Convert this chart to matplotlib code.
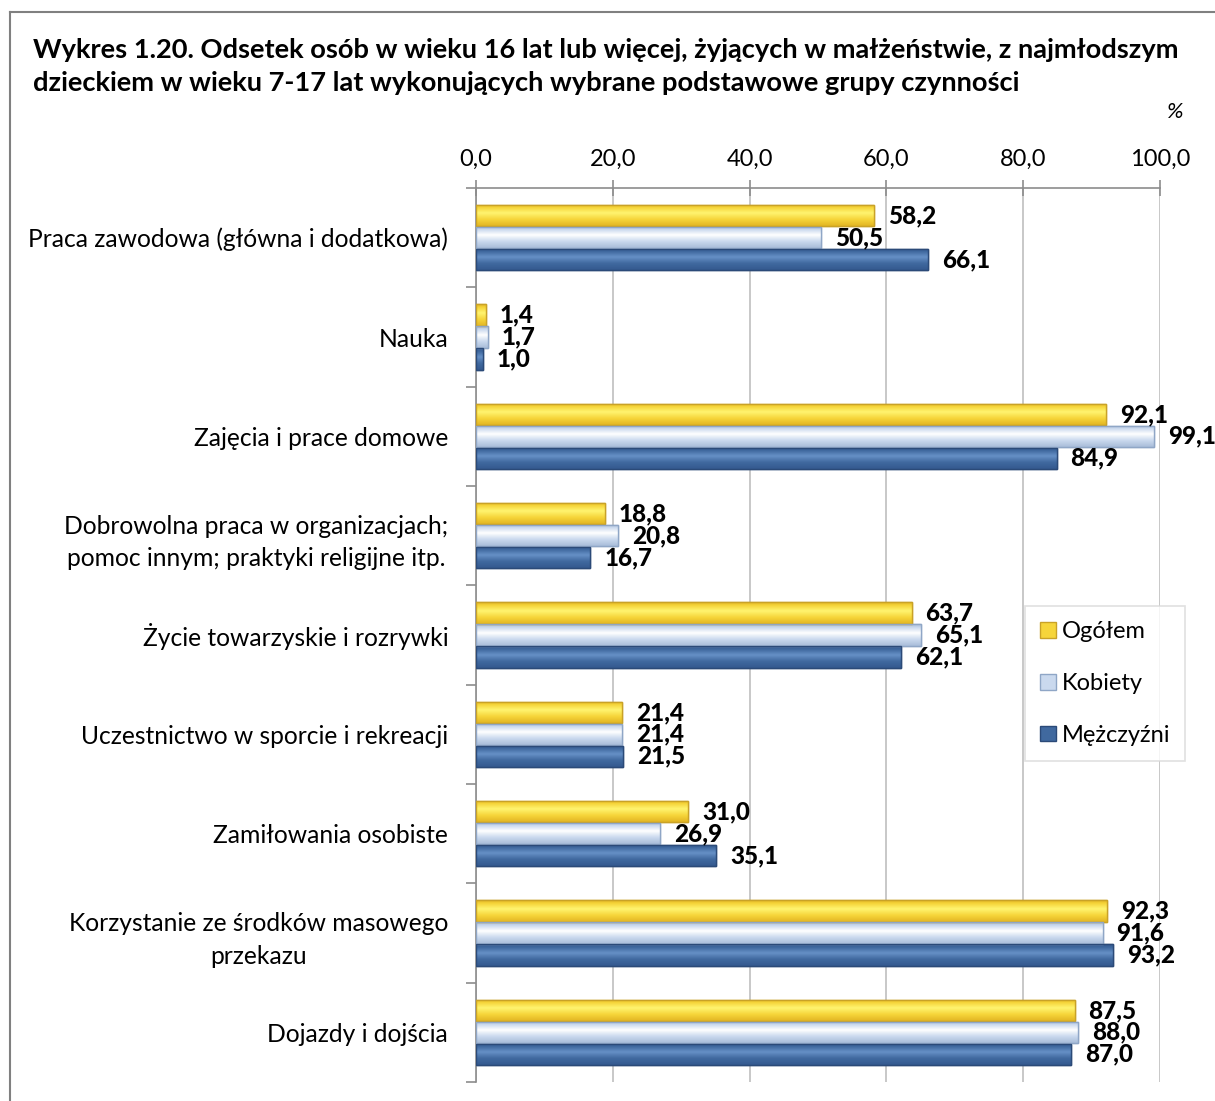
import numpy as np
import matplotlib
matplotlib.use("Agg")
import matplotlib.pyplot as plt
from matplotlib.lines import Line2D
from matplotlib.patches import Patch
from matplotlib.colors import LinearSegmentedColormap

plt.rcParams['font.family'] = ['Lato', 'DejaVu Sans']

categories = [
    "Praca zawodowa (główna i dodatkowa)",
    "Nauka",
    "Zajęcia i prace domowe",
    "Dobrowolna praca w organizacjach;\npomoc innym; praktyki religijne itp.",
    "Życie towarzyskie i rozrywki",
    "Uczestnictwo w sporcie i rekreacji",
    "Zamiłowania osobiste",
    "Korzystanie ze środków masowego\nprzekazu",
    "Dojazdy i dojścia",
]
series_names = ["Ogółem", "Kobiety", "Mężczyźni"]
ogolem = [58.2, 1.4, 92.1, 18.8, 63.7, 21.4, 31.0, 92.3, 87.5]
kobiety = [50.5, 1.7, 99.1, 20.8, 65.1, 21.4, 26.9, 91.6, 88.0]
mezczyzni = [66.1, 1.0, 84.9, 16.7, 62.1, 21.5, 35.1, 93.2, 87.0]
x_ticks = [0, 20, 40, 60, 80, 100]

series = [ogolem, kobiety, mezczyzni]
# (edge, dark, base, light)
styles = [
    ("#C9A227", "#E2B623", "#F6D53A", "#FFF470"),
    ("#8FA6C6", "#A9BDD9", "#CAD9EE", "#FFFFFF"),
    ("#2B4A78", "#34598F", "#40699F", "#6690C6"),
]
offsets = [-0.22, 0.0, 0.22]
bar_h = 0.215

W, H = 1215, 1101
fig = plt.figure(figsize=(W / 100, H / 100), dpi=100)
ax = fig.add_axes([476 / W, 1 - 1082 / H, (1160 - 476) / W, (1082 - 188) / H])

y = np.arange(len(categories))
for vals, (edge, dark, base, light), off, name in zip(series, styles, offsets, series_names):
    bars = ax.barh(y + off, vals, height=bar_h, color=base, edgecolor=edge,
                   linewidth=1.0, label=name, zorder=3)
    cmap = LinearSegmentedColormap.from_list(
        name, [(0, dark), (0.15, base), (0.4, light), (0.7, base), (1, dark)])
    grad = np.linspace(0, 1, 64).reshape(-1, 1)
    for b in bars:
        x0, y0 = b.get_x(), b.get_y()
        w, h = b.get_width(), b.get_height()
        im = ax.imshow(grad, cmap=cmap, aspect='auto',
                       extent=(x0, x0 + w, y0 + h, y0), zorder=3.5,
                       interpolation='bilinear')
        im.set_clip_path(b)
        ax.barh(y0 + h / 2, w, height=h, left=x0, color='none',
                edgecolor=edge, linewidth=1.0, zorder=4)
    for v, yy in zip(vals, y + off):
        ax.annotate(f"{v:.1f}".replace(".", ","), xy=(v, yy),
                    xytext=(10, 0), textcoords='offset points',
                    ha='left', va='center', fontsize=17.5,
                    fontweight='black', color='black', zorder=5)

ax.set_xlim(0, 100)
ax.set_ylim(len(categories) - 0.5, -0.5)
ax.xaxis.tick_top()
ax.set_xticks(x_ticks)
ax.set_xticklabels([f"{t:.1f}".replace(".", ",") for t in x_ticks], fontsize=17)
ax.tick_params(axis='x', direction='inout', length=12, width=1.2, color='#8C8C8C', pad=7)

ax.set_yticks(y)
ax.set_yticklabels(categories, fontsize=17.7, linespacing=1.5, multialignment='center')
ax.tick_params(axis='y', which='major', length=0, pad=20)
ax.set_yticks(np.arange(len(categories) + 1) - 0.5, minor=True)
ax.tick_params(axis='y', which='minor', length=7, width=1.2, color='#8C8C8C')

ax.grid(axis='x', color='#BFBFBF', linewidth=1.2, zorder=0)
ax.set_axisbelow(True)
for s in ['right', 'bottom']:
    ax.spines[s].set_visible(False)
for s in ['top', 'left']:
    ax.spines[s].set_color('#8C8C8C')
    ax.spines[s].set_linewidth(1.2)

handles = [Patch(facecolor=st[2], edgecolor=st[0]) for st in styles]
leg = fig.legend(handles, series_names, loc='upper left',
                 bbox_to_anchor=(1025 / W, 1 - 606 / H), fontsize=17,
                 frameon=True, fancybox=False, edgecolor='#D9D9D9',
                 labelspacing=1.3, handlelength=0.65, handleheight=0.65,
                 handletextpad=0.25, borderpad=0.65, borderaxespad=0)
leg.get_frame().set_linewidth(1.2)

fig.text(33 / W, 1 - 38 / H,
         "Wykres 1.20. Odsetek osób w wieku 16 lat lub więcej, żyjących w małżeństwie, z najmłodszym\n"
         "dzieckiem w wieku 7-17 lat wykonujących wybrane podstawowe grupy czynności",
         ha='left', va='top', fontsize=19.6, fontweight='bold', linespacing=1.45)
fig.text(1175 / W, 1 - 112 / H, "%", ha='center', va='center', fontsize=16, style='italic')

fig.add_artist(Line2D([10 / W, 10 / W], [0, 1 - 12 / H], color='#808080', linewidth=1.5))
fig.add_artist(Line2D([10 / W, 1], [1 - 12 / H, 1 - 12 / H], color='#808080', linewidth=1.5))

fig.savefig("out.png", dpi=100)
